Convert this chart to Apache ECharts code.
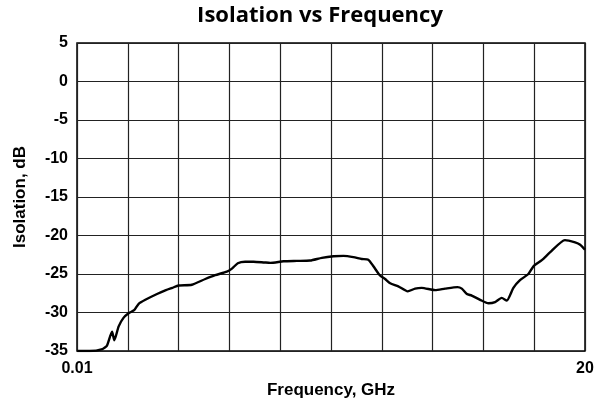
<!DOCTYPE html>
<html>
<head>
<meta charset="utf-8">
<script src="https://cdn.jsdelivr.net/npm/echarts@6/dist/echarts.min.js"></script>
<style>
  html, body { margin: 0; padding: 0; background: #fff; }
  #chart { width: 607px; height: 404px; }
</style>
</head>
<body>
<div id="chart"></div>
<script>
// frequency in GHz
const freq = [0.01, 0.5, 1.0, 1.18, 1.38, 1.47, 1.64, 1.83, 2.03, 2.25, 2.42, 2.69, 3.15, 3.5, 3.75, 4.0,
  4.52, 5.05, 5.44, 5.9, 6.1, 6.33, 6.62, 6.95, 7.38, 7.61, 8.13, 8.66, 9.18, 9.64, 10.1, 10.49,
  10.88, 11.21, 11.47, 11.67, 11.93, 12.13, 12.33, 12.65, 13.02, 13.31, 13.57, 14.1, 14.49, 14.98,
  15.15, 15.35, 15.54, 15.87, 16.2, 16.46, 16.72, 16.92, 17.18, 17.44, 17.77, 17.97, 18.3, 18.62,
  19.21, 19.61, 19.81, 20]
// isolation in dB
const isolation = [-35, -35, -34.75, -34.3, -32.5, -33.6, -31.8, -30.7, -30.1, -29.7, -28.9, -28.35, -27.6, -27.1, -26.8, -26.5,
  -26.4, -25.65, -25.15, -24.7, -24.3, -23.6, -23.4, -23.4, -23.5, -23.55, -23.35, -23.3, -23.25, -22.9, -22.7, -22.65,
  -22.8, -23.05, -23.15, -24.0, -25.2, -25.65, -26.2, -26.6, -27.25, -26.9, -26.8, -27.1, -26.9, -26.7,
  -26.9, -27.6, -27.8, -28.35, -28.8, -28.65, -28.1, -28.45, -26.8, -25.8, -25.0, -24.0, -23.2, -22.2,
  -20.6, -20.9, -21.2, -21.85]
const xLabels = { 0: '0.01', 20: '20' }

const chart = echarts.init(document.getElementById('chart'))
const font = 'Liberation Sans, Arial, sans-serif'

chart.setOption({
  animation: false,
  title: {
    text: 'Isolation vs Frequency',
    left: 315,
    top: 0,
    textAlign: 'center',
    textStyle: { fontFamily: 'Open Sans', fontWeight: 'bold', fontSize: 22, color: '#000' }
  },
  grid: {
    left: 77, right: 22, top: 43, bottom: 53,
    show: true, borderColor: '#000', borderWidth: 1.5
  },
  xAxis: {
    type: 'value',
    min: 0, max: 20, interval: 2,
    name: 'Frequency, GHz',
    nameLocation: 'middle',
    nameGap: 28,
    nameTextStyle: { fontFamily: font, fontWeight: 'bold', fontSize: 17, color: '#000' },
    axisLine: { show: false },
    axisTick: { show: false },
    axisLabel: {
      margin: 10,
      fontFamily: font, fontWeight: 'bold', fontSize: 16, color: '#000',
      formatter: v => xLabels[v] || ''
    },
    splitLine: { lineStyle: { color: '#222', width: 1.2 } }
  },
  yAxis: {
    type: 'value',
    min: -35, max: 5, interval: 5,
    name: 'Isolation, dB',
    nameLocation: 'middle',
    nameGap: 48,
    nameRotate: 90,
    nameTextStyle: { fontFamily: font, fontWeight: 'bold', fontSize: 17, color: '#000' },
    axisLine: { show: false },
    axisTick: { show: false },
    axisLabel: { margin: 9, fontFamily: font, fontWeight: 'bold', fontSize: 16, color: '#000' },
    splitLine: { lineStyle: { color: '#222', width: 1.2 } }
  },
  series: [{
    type: 'line',
    data: freq.map((f, i) => [f, isolation[i]]),
    showSymbol: false,
    smooth: 0.2,
    lineStyle: { color: '#000', width: 2.4 }
  }]
})
</script>
</body>
</html>
